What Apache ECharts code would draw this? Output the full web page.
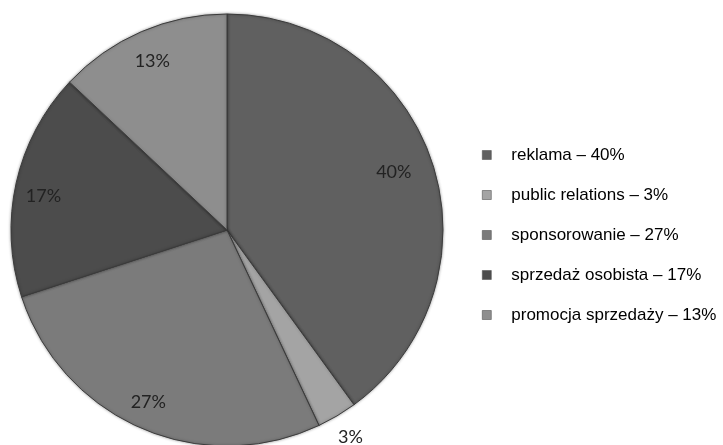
<!DOCTYPE html>
<html>
<head>
<meta charset="utf-8">
<script src="https://cdn.jsdelivr.net/npm/echarts@6/dist/echarts.min.js"></script>
<style>
  html, body { margin: 0; padding: 0; background: #ffffff; }
  #chart { width: 723px; height: 445px; }
</style>
</head>
<body>
<div id="chart"></div>
<script>
// Struktura wydatków na narzędzia promocji
const categories = ['reklama', 'public relations', 'sponsorowanie', 'sprzedaż osobista', 'promocja sprzedaży'];
const shares = [40, 3, 27, 17, 13];
const sliceColors = ['#606060', '#a4a4a4', '#7b7b7b', '#4c4c4c', '#8e8e8e'];

// small per-slice nudges for the percentage labels
const labelNudge = [[-12, 0], [-10, 11], [-4, 0], [0, 7], [0, 4]];

const pieData = categories.map((name, i) => ({
  name: name,
  value: shares[i],
  itemStyle: { color: sliceColors[i] }
}));

const center = [227, 230];
const outerR = 216;

const chart = echarts.init(document.getElementById('chart'), null, { renderer: 'canvas' });

chart.setOption({
  backgroundColor: '#ffffff',
  animation: false,
  legend: {
    orient: 'vertical',
    left: 477,
    top: 135,
    itemWidth: 9,
    itemHeight: 9,
    itemGap: 10,
    icon: 'rect',
    selectedMode: false,
    itemStyle: { borderColor: '#555', borderWidth: 0.6 },
    formatter: name => name + ' – ' + shares[categories.indexOf(name)] + '%',
    textStyle: {
      fontFamily: 'Liberation Sans, Arial, sans-serif',
      fontSize: 17,
      lineHeight: 20,
      color: '#000',
      padding: [10, 0, 0, 15]
    },
    data: categories
  },
  series: [
    {
      // slices
      type: 'pie',
      center: center,
      radius: [0, outerR],
      startAngle: 90,
      clockwise: true,
      silent: true,
      itemStyle: {
        borderColor: '#3c3c3c',
        borderWidth: 1,
        shadowBlur: 3,
        shadowColor: 'rgba(0,0,0,0.35)'
      },
      label: {
        show: true,
        position: 'outside',
        fontFamily: 'Lato, sans-serif',
        fontSize: 18,
        color: '#222',
        formatter: p => p.dataIndex === 1 ? p.value + '%' : ''
      },
      labelLine: { show: false, length: 12, length2: 0 },
      labelLayout: p => p.dataIndex === 1 ? { dx: labelNudge[1][0], dy: labelNudge[1][1] } : {},
      data: pieData
    },
    {
      // ring carrying the inner percentage labels
      type: 'pie',
      center: center,
      radius: [152, 218],
      startAngle: 90,
      clockwise: true,
      silent: true,
      legendHoverLink: false,
      itemStyle: { color: 'rgba(0,0,0,0)', borderWidth: 0 },
      label: {
        show: true,
        position: 'inside',
        fontFamily: 'Lato, sans-serif',
        fontSize: 18,
        color: '#222',
        formatter: p => p.dataIndex === 1 ? '' : p.value + '%'
      },
      labelLine: { show: false },
      labelLayout: p => ({ dx: labelNudge[p.dataIndex][0], dy: labelNudge[p.dataIndex][1] }),
      data: categories.map((name, i) => ({ name: name + ' ', value: shares[i] }))
    }
  ]
});
</script>
</body>
</html>
